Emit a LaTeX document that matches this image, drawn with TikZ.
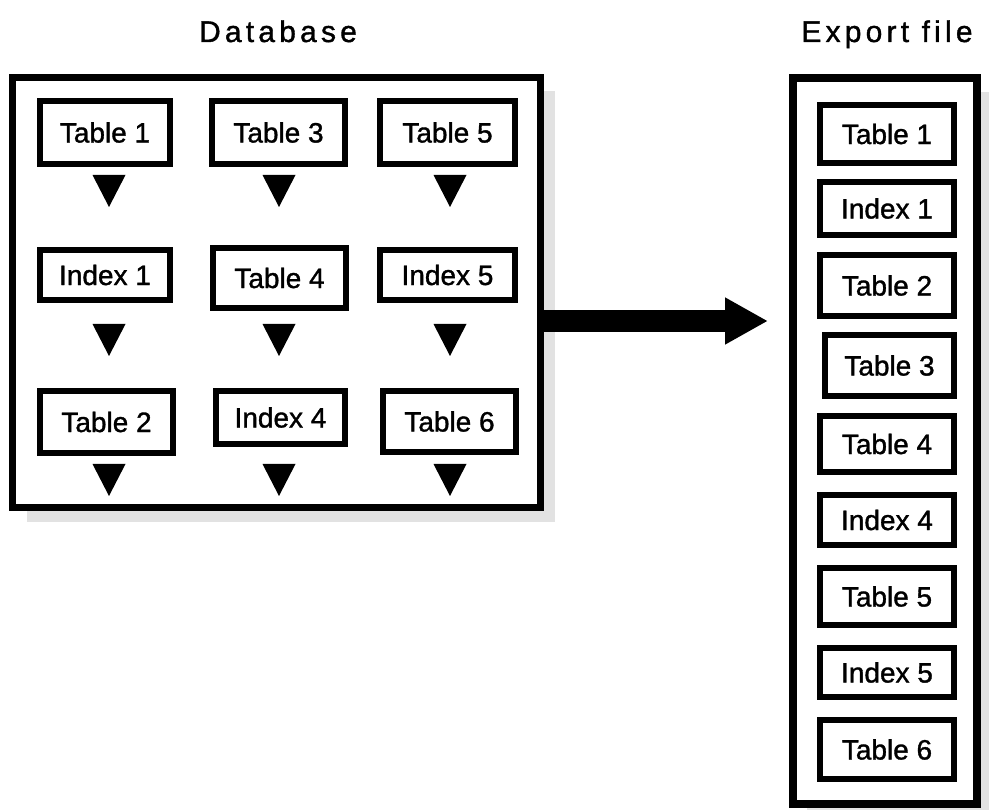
\documentclass[tikz,border=0pt]{standalone}
\usepackage{fontspec}
\setmainfont{Liberation Sans}
\usetikzlibrary{arrows.meta,shadows,calc}
\definecolor{shadowgray}{HTML}{E2E2E2}
\tikzset{
  container/.style={draw=black, line width=8pt, fill=white, inner sep=0pt,
    drop shadow={shadow xshift=14pt, shadow yshift=-14pt, fill=shadowgray, opacity=1}},
  item/.style={draw=black, line width=6pt, fill=white, inner sep=0pt,
    font=\fontsize{28}{34}\selectfont\addfontfeature{FakeBold=1.2}},
  title/.style={anchor=base, inner sep=0pt,
    font=\fontsize{30}{36}\selectfont\addfontfeature{LetterSpace=14,FakeBold=1.2}},
  flow/.style={fill=black},
  bigarrow/.style={line width=22pt, -{Triangle[length=43pt,width=44pt]}},
  pics/downtri/.style={code={\fill[flow] (-16.5,0) -- (16.5,0) -- (0,32) -- cycle;}}
}
\begin{document}
\begin{tikzpicture}[x=1pt,y=-1pt]
\useasboundingbox[fill=white] (0,0) rectangle (989,810);

% source database and its objects
\node[container, line width=7pt, minimum width=528, minimum height=430] (db) at (276.5,292.5) {};
\node[title] (dbtitle) at (278,42) {Database};

\node[item, minimum width=130, minimum height=63] (t1) at (105,132.5) {Table 1};
\node[item, minimum width=133, minimum height=63] (t3) at (278.5,132.5) {Table 3};
\node[item, minimum width=135, minimum height=63] (t5) at (447.5,132.5) {Table 5};
\node[item, minimum width=130, minimum height=50] (i1) at (105,275) {Index 1};
\node[item, minimum width=133, minimum height=60] (t4) at (279.5,278) {Table 4};
\node[item, minimum width=135, minimum height=50] (i5) at (447.5,275) {Index 5};
\node[item, minimum width=133, minimum height=62] (t2) at (106.5,422) {Table 2};
\node[item, minimum width=129, minimum height=53] (i4) at (280.5,417.5) {Index 4};
\node[item, minimum width=133, minimum height=61] (t6) at (449.5,421.5) {Table 6};

% order markers under each object
\foreach \x in {109,279,450} {
  \foreach \y in {175,324,464} {
    \pic at (\x,\y) {downtri};
  }
}

% export file and the objects in written order
\node[container, minimum width=184, minimum height=726] (ex) at (885,441) {};
\node[title] (extitle) at (887,42) {Export file};

\node[item, minimum width=134, minimum height=58] (e1) at (887,134) {Table 1};
\node[item, minimum width=134, minimum height=53] (e2) at (887,208.5) {Index 1};
\node[item, minimum width=134, minimum height=61] (e3) at (887,285.5) {Table 2};
\node[item, minimum width=129, minimum height=61] (e4) at (889.5,365.5) {Table 3};
\node[item, minimum width=134, minimum height=56] (e5) at (887,444) {Table 4};
\node[item, minimum width=134, minimum height=50] (e6) at (887,520) {Index 4};
\node[item, minimum width=134, minimum height=57] (e7) at (887,596.5) {Table 5};
\node[item, minimum width=134, minimum height=49] (e8) at (887,672.5) {Index 5};
\node[item, minimum width=134, minimum height=59] (e9) at (887,749.5) {Table 6};

% export direction
\coordinate (ay) at (0,321);
\draw[bigarrow, shorten >=21pt] (db.east |- ay) -- (ex.west |- ay);
\end{tikzpicture}
\end{document}
